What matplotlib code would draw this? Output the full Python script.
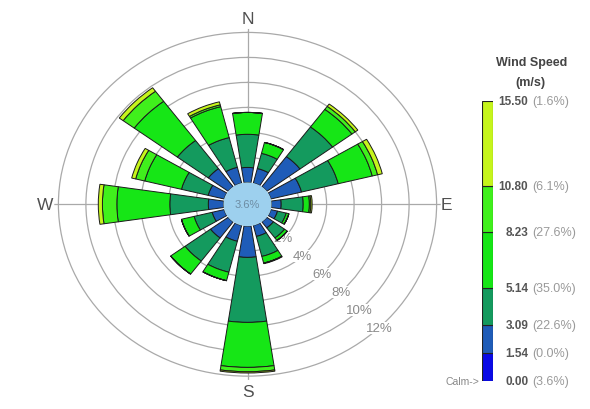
import numpy as np
import matplotlib
matplotlib.use('Agg')
import matplotlib.pyplot as plt

plt.rcParams['font.family'] = ['Liberation Sans', 'DejaVu Sans']

# ---- data ----
directions = ['N', 'NNE', 'NE', 'ENE', 'E', 'ESE', 'SE', 'SSE',
              'S', 'SSW', 'SW', 'WSW', 'W', 'WNW', 'NW', 'NNW']
dir_angles_deg = [0, 22.5, 45, 67.5, 90, 112.5, 135, 157.5,
                  180, 202.5, 225, 247.5, 270, 292.5, 315, 337.5]

# frequency (%) per direction for each speed bin
freq_154_309 = [1.2, 1.2, 3.0, 2.3, 0.7, 0.5, 0.6, 0.9, 2.5, 1.3, 1.6, 0.9, 1.1, 1.2, 1.8, 1.3]
freq_309_514 = [2.65, 1.25, 2.95, 2.75, 1.6, 0.65, 1.0, 1.65, 5.2, 2.55, 2.3, 1.35, 2.8, 2.0, 2.8, 2.45]
freq_514_823 = [1.75, 0.9, 1.75, 2.55, 0.45, 0.2, 0.25, 0.55, 3.6, 0.7, 1.3, 0.95, 3.85, 2.75, 3.9, 2.55]
freq_823_1080 = [0, 0, 0.3, 0.4, 0.1, 0, 0, 0, 0.35, 0, 0, 0, 1.05, 0.68, 1.0, 0.15]
freq_1080_1550 = [0, 0, 0.23, 0.35, 0.1, 0, 0, 0.05, 0.1, 0, 0, 0, 0.3, 0.3, 0.35, 0.25]

calm_pct = 3.6
speed_edges = [0.00, 1.54, 3.09, 5.14, 8.23, 10.80, 15.50]
speed_pct = ['3.6', '0.0', '22.6', '35.0', '27.6', '6.1', '1.6']
ring_values = [2, 4, 6, 8, 10, 12]
ring_labels = ['2%', '4%', '6%', '8%', '10%', '12%']
compass = [('N', 0), ('E', 90), ('S', 180), ('W', 270)]

bin_colors = ['#0a0ae6', '#1f5cb8', '#149a5e', '#16e616', '#40f01c', '#c6f51c']

# ---- figure ----
fig = plt.figure(figsize=(5.9, 4.1), dpi=100)
ax = fig.add_axes([0.092, 0.071, 0.655, 0.8566], projection='polar')
ax.set_aspect('auto')
ax.set_theta_zero_location('N')
ax.set_theta_direction(-1)
R0 = 1.75
ax.set_ylim(-R0, 12.3)
ax.set_axisbelow(True)

theta = np.deg2rad(dir_angles_deg)
width = np.deg2rad(17)
series = [freq_154_309, freq_309_514, freq_514_823, freq_823_1080, freq_1080_1550]
bottom = np.zeros(len(directions))
for vals, col in zip(series, bin_colors[1:]):
    vals = np.array(vals)
    ax.bar(theta, vals, width=width, bottom=bottom, color=col,
           edgecolor='#1a1a1a', linewidth=0.7, zorder=2)
    bottom = bottom + vals

# calm disc
ax.bar(0, R0, width=2 * np.pi, bottom=-R0, color='#9dd0ee',
       edgecolor='none', zorder=3)
ax.text(0, -R0, f'{calm_pct}%', ha='center', va='center', fontsize=8,
        color='#6d8ca3', zorder=4)

ax.set_rgrids(ring_values, labels=[''] * len(ring_values))
ax.set_thetagrids([a for _, a in compass], labels=[''] * len(compass))
ax.grid(color='#a9a9a9', linewidth=0.9)
ax.spines['polar'].set_visible(False)

for v, lab in zip(ring_values, ring_labels):
    ax.text(np.deg2rad(136), v, lab, ha='center', va='center', fontsize=9.5,
            color='#8a8a8a', zorder=1,
            bbox=dict(facecolor='white', edgecolor='none', pad=0.3))

label_r = {'N': 13.1, 'E': 12.7, 'S': 13.2, 'W': 13.0}
for name, a in compass:
    ax.text(np.deg2rad(a), label_r[name], name, ha='center', va='center',
            fontsize=12.5, color='#505050')

# ---- speed legend bar ----
cax = fig.add_axes([481.7 / 590, (410 - 381.7) / 410, 11.3 / 590, 280 / 410])
cax.bar([0] * 6, np.diff(speed_edges), bottom=speed_edges[:-1], width=1,
        color=bin_colors, edgecolor='#222222', linewidth=0.8)
cax.set_xlim(-0.5, 0.5)
cax.set_ylim(0, speed_edges[-1])
cax.axis('off')
tr = cax.get_yaxis_transform()
for sp, pc in zip(speed_edges, speed_pct):
    cax.text(4.12, sp, f'{sp:.2f}', transform=tr, ha='right', va='center',
             fontsize=8.5, fontweight='bold', color='#555555')
    cax.text(4.5, sp, f'({pc}%)', transform=tr, ha='left', va='center',
             fontsize=9, color='#9a9a9a')
cax.text(-0.25, 0, 'Calm->', transform=tr, ha='right', va='center',
         fontsize=7.5, color='#888888')

fig.text(531.7 / 590, 1 - 63.3 / 410, 'Wind Speed', ha='center', va='center',
         fontsize=9, fontweight='bold', color='#444444')
fig.text(530.7 / 590, 1 - 83.3 / 410, '(m/s)', ha='center', va='center',
         fontsize=9, fontweight='bold', color='#444444')

fig.savefig('out.png', dpi=100)
